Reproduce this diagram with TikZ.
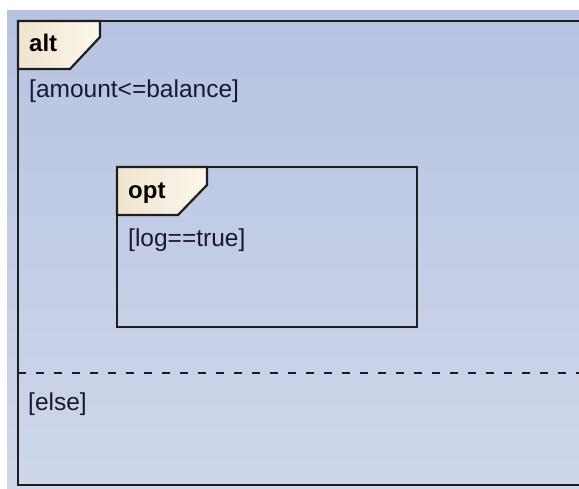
\documentclass[tikz,border=0pt]{standalone}
\usepackage{fontspec}
\setmainfont{Liberation Sans}
\definecolor{bgtop}{RGB}{182,195,225}
\definecolor{bgbottom}{RGB}{207,215,234}
\definecolor{tableft}{RGB}{240,228,206}
\definecolor{tabright}{RGB}{252,247,236}
\definecolor{edge}{RGB}{30,30,30}
\definecolor{guardtext}{RGB}{25,25,50}

\begin{document}
\begin{tikzpicture}[
x=1pt, y=-1pt,
fragment/.style={draw=edge, line width=2.2pt},
fragtab/.style={fragment, left color=tableft, right color=tabright, line join=miter},
keyword/.style={anchor=base west, inner sep=0pt, font=\fontsize{24}{28}\selectfont\bfseries, text=black},
guard/.style={anchor=base west, inner sep=0pt, font=\fontsize{24.5}{28}\selectfont, text=guardtext}
]

\useasboundingbox (0,0) rectangle (579,488);
\fill[white] (0,0) rectangle (579,488);
\shade[top color=bgtop, bottom color=bgbottom] (7,10) rectangle (579,488);

% alt fragment
\coordinate (A1) at (18,21);
\coordinate (A2) at (579,21);
\coordinate (A3) at (579,485);
\coordinate (A4) at (18,485);

\draw[fragment] (A2) -- (A1) -- (A4) -- (A3);
\draw[fragtab] (A1) -- (100,21) -- (100,37) -- (70,69) -- (18,69) -- cycle;

% opt fragment
\coordinate (O1) at (117,167);
\coordinate (O2) at (417,327);

\draw[fragment] (O1) rectangle (O2);
\draw[fragtab] (O1) -- (207,167) -- (207,185) -- (178,215) -- (117,215) -- cycle;

% else separator
\coordinate (S1) at (18,373);
\coordinate (S2) at (579,373);
\draw[edge, line width=1.8pt, dash pattern=on 8pt off 10pt] (S1) -- (S2);

\node[keyword] (altkw) at (29,51) {alt};
\node[guard] (altguard) at (29,97) {[amount<=balance]};
\node[keyword] (optkw) at (128,198) {opt};
\node[guard] (optguard) at (128,246) {[log==true]};
\node[guard] (elseguard) at (28,410) {[else]};
\end{tikzpicture}
\end{document}
